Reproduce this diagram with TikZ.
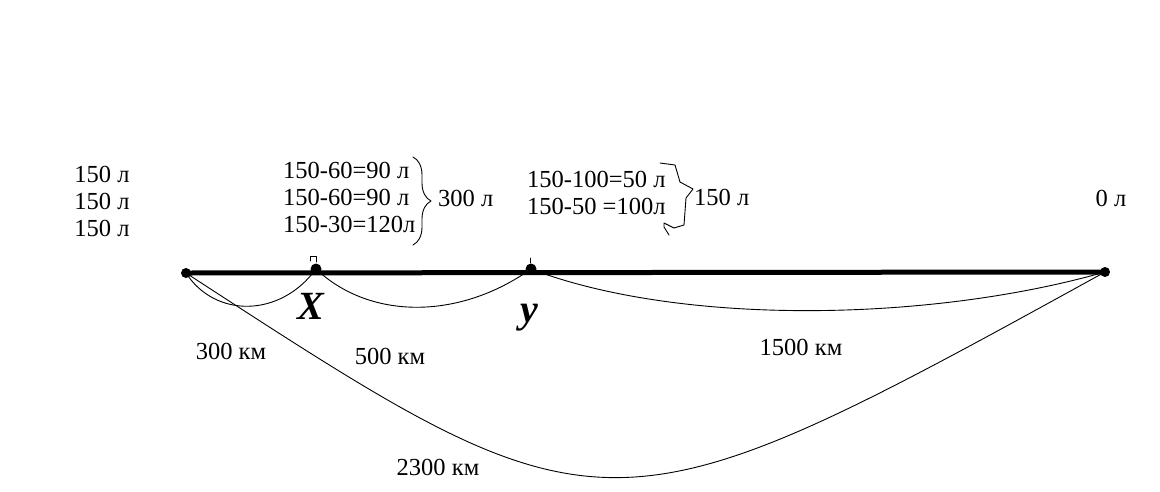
\documentclass[tikz,border=0pt]{standalone}
\usepackage{fontspec}
\setmainfont{Liberation Serif}
\usetikzlibrary{decorations.pathreplacing}
\tikzset{>=latex}

\begin{document}
\begin{tikzpicture}[line cap=round,line join=round,x=1pt,y=-1pt,
	dot/.style={circle,fill=black,inner sep=0pt,minimum size=10pt},
	txt/.style={font=\fontsize{24.5}{27}\selectfont,inner sep=0pt},
	lbl/.style={font=\fontsize{40}{40}\selectfont\bfseries\itshape,inner sep=0pt,anchor=base},
	arc/.style={line width=0.9pt}]
			\useasboundingbox (0,0) rectangle (1160,491);
			% points on the road
			\node[dot] (A) at (186,273) {};
			\node[dot,minimum width=9pt,minimum height=11pt] (X) at (316,269) {};
			\node[dot,minimum width=9pt,minimum height=11pt] (Y) at (531,269) {};
			\node[dot] (B) at (1105,272) {};
			\draw[line width=5pt] (A.center) -- (B.center);
			\draw[line width=0.8pt] (310,261) -- (310,256) -- (316,256) -- (316,262);
			\draw[line width=0.8pt] (530,263) -- (530,258);
			% distances
			\draw[arc] (A.center) .. controls (215,318) and (280,318) .. (X.center);
			\draw[arc] (X.center) .. controls (370,320) and (459,320) .. (Y.center);
			\draw[arc] (Y.center) .. controls (680,326) and (930,322) .. (B.center);
			\draw[arc] (A.center) .. controls (604,545) and (606,547) .. (B.center);
			\node[lbl] (xl) at (311,319) {X};
			\node[lbl] (yl) at (529,322) {y};
			\node[txt] (d1) at (231,351) {300 км};
			\node[txt] (d2) at (390,356) {500 км};
			\node[txt] (d3) at (801,347) {1500 км};
			\node[txt] (d4) at (438,467) {2300 км};
			% fuel
			\node[txt,align=left] (fA) at (102,201) {150 л\\150 л\\150 л};
			\node[txt,align=left,anchor=west] (fX) at (283,197) {150-60=90 л\\150-60=90 л\\150-30=120л};
			\draw[arc,decorate,decoration={brace,amplitude=18pt}] (413,157) -- (413,245);
			\node[txt,anchor=west] (sX) at (438,198) {300 л};
			\node[txt,align=left,anchor=west] (fY) at (527,193) {150-100=50 л\\150-50 =100л};
			\draw[arc] (660,163) -- (675,165) -- (680,182) -- (693,189) -- (686,198) -- (684,225)
				-- (674,228) -- (664,223) -- (664,227) -- (669,235);
			\node[txt,anchor=west] (sY) at (694,197) {150 л};
			\node[txt] (fB) at (1111,198) {0 л};
			\end{tikzpicture}
\end{document}
